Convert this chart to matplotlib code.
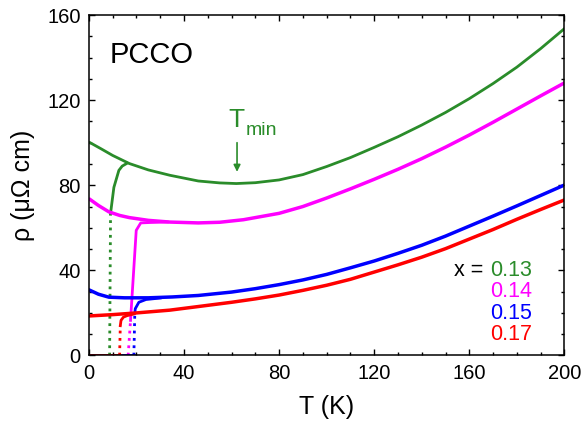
import matplotlib
matplotlib.use("Agg")
import matplotlib.pyplot as plt
from matplotlib.ticker import MultipleLocator

plt.rcParams['font.family'] = ['Liberation Sans', 'DejaVu Sans']

# colours for each doping
c13, c14, c15, c17 = '#2a8c2a', '#ff00ff', '#0000ff', '#ff0000'

# normal-state resistivity (field suppressed SC)
T13 = [0.5, 5, 10, 17, 25, 34, 46, 55, 62, 70, 80, 90, 100, 110, 120, 130, 140, 150, 160, 170, 180, 190, 200]
r13 = [100, 97.2, 94, 90.2, 87.2, 84.7, 82, 81.1, 80.8, 81.2, 82.5, 85, 88.8, 93, 97.8, 102.8, 108.3, 114.2, 120.7, 127.8, 135.5, 144.2, 153.6]

T14 = [0.5, 4, 8.4, 13, 17, 25, 34, 46, 55, 65, 80, 90, 100, 110, 120, 130, 140, 150, 160, 170, 180, 190, 200]
r14 = [73.3, 70.5, 67.5, 65.8, 64.8, 63.5, 62.7, 62.3, 62.6, 63.8, 66.8, 70, 74, 78.3, 82.8, 87.5, 92.5, 97.9, 103.6, 109.6, 115.8, 122, 128.1]

T15 = [0.5, 4, 8.4, 15, 25, 35, 46, 60, 70, 80, 90, 100, 110, 120, 130, 140, 150, 160, 170, 180, 190, 200]
r15 = [30.6, 28.8, 27.4, 27.1, 27.1, 27.5, 28.2, 29.8, 31.4, 33.3, 35.5, 38.1, 41.2, 44.4, 48, 51.8, 56.1, 60.8, 65.5, 70.3, 75.2, 80.1]

T17 = [0.5, 10, 20, 34, 46, 60, 70, 80, 90, 100, 110, 120, 130, 140, 150, 160, 170, 180, 190, 200]
r17 = [18.6, 19.2, 20, 21.3, 23, 25, 26.6, 28.4, 30.6, 33, 35.8, 39.2, 42.6, 46.2, 50.2, 54.7, 59.2, 64, 68.6, 73.1]

# zero-field transitions: steep part (dotted) and knee (solid)
Tc13 = [8.7, 9.1];  rc13 = [0, 66.8]
Tk13 = [9.1, 10.5, 12.6, 14, 16];  rk13 = [66.8, 79, 87, 89, 90.3]
Tc14 = [16.5, 17.5]; rc14 = [0, 16.5]
Tk14 = [17.5, 19.9, 21.8, 26, 33];  rk14 = [16.5, 58.8, 62.3, 62.5, 62.7]
Tc15 = [18.9, 19.3]; rc15 = [0, 20]
Tk15 = [19.3, 19.5, 21, 24, 30];  rk15 = [20, 22, 25, 26.3, 27]
Tc17 = [12.9, 13.2]; rc17 = [0, 14]
Tk17 = [13.2, 13.5, 14.5, 16, 19];  rk17 = [14, 16.5, 18, 18.7, 19.5]

# zero-resistance range below Tc
Tz_start = 0.5
Tz_end = [8.7, 16.5, 18.9, 12.9]

labels = ['0.13', '0.14', '0.15', '0.17']
label_y = [39.9, 29.9, 19.8, 9.7]

fig = plt.figure(figsize=(5.85, 4.24), dpi=100)
ax = fig.add_axes([0.152, 0.1616, 0.8128, 0.803])

sets = [
    (T13, r13, Tc13, rc13, Tk13, rk13, Tz_end[0], c13, 2.0),
    (T14, r14, Tc14, rc14, Tk14, rk14, Tz_end[1], c14, 2.5),
    (T15, r15, Tc15, rc15, Tk15, rk15, Tz_end[2], c15, 2.5),
    (T17, r17, Tc17, rc17, Tk17, rk17, Tz_end[3], c17, 2.5),
]
for T, r, Tc, rc, Tk, rk, tz, col, lw in sets:
    ax.plot(T, r, color=col, lw=lw, solid_joinstyle='round')
    ax.plot(Tc, rc, color=col, lw=2, linestyle=':')
    ax.plot(Tk, rk, color=col, lw=2)
    ax.plot([Tz_start, tz], [0, 0], color=col, lw=2)

ax.set_xlim(0, 200)
ax.set_ylim(0, 160)
ax.xaxis.set_major_locator(MultipleLocator(40))
ax.xaxis.set_minor_locator(MultipleLocator(10))
ax.yaxis.set_major_locator(MultipleLocator(40))
ax.yaxis.set_minor_locator(MultipleLocator(10))
ax.tick_params(which='both', direction='in', top=True, right=True, labelsize=14.5, width=1)
ax.tick_params(which='major', length=4.5, pad=6)
ax.tick_params(which='minor', length=2.5)
for s in ax.spines.values():
    s.set_linewidth(1.1)

ax.set_xlabel('T (K)', fontsize=18, labelpad=9)
ax.set_ylabel('ρ (μΩ cm)', fontsize=18, labelpad=9)

ax.text(8.5, 141, 'PCCO', fontsize=21, va='center', ha='left')

# T_min annotation
ax.annotate('', xy=(62.3, 85), xytext=(62.3, 101.3),
            arrowprops=dict(arrowstyle='-|>', color=c13, lw=1.2, mutation_scale=10))
ax.text(62, 107.5, 'T', fontsize=19, color=c13, ha='center', va='baseline')
ax.text(66, 103.6, 'min', fontsize=14, color=c13, ha='left', va='baseline')

# doping legend
ax.text(166, label_y[0], 'x =', fontsize=15.5, ha='right', va='center')
for lab, col, y in zip(labels, [c13, c14, c15, c17], label_y):
    ax.text(186.5, y, lab, fontsize=15.5, color=col, ha='right', va='center')

fig.savefig('out.png', dpi=100)
